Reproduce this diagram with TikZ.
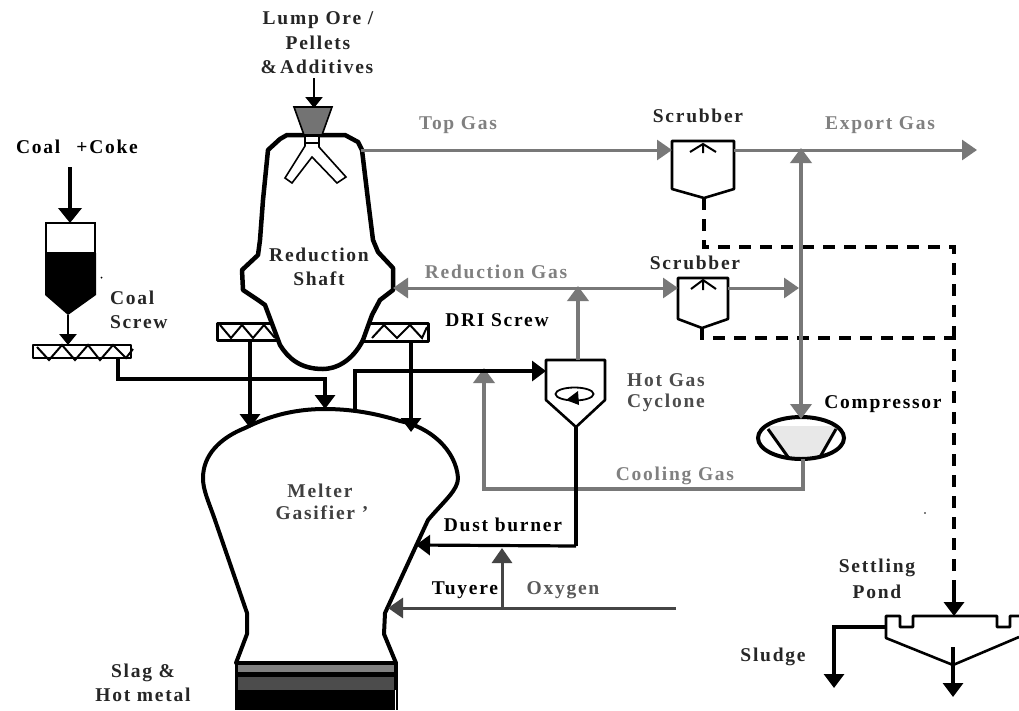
\documentclass[tikz,border=0pt]{standalone}
\usepackage{fontspec}
\setmainfont{Liberation Serif}[LetterSpace=9]
\usetikzlibrary{arrows.meta}
\definecolor{gas}{gray}{0.47}
\definecolor{oxy}{gray}{0.27}
\tikzset{
  x=1pt,y=-1pt,
  every node/.style={inner sep=0pt,outer sep=0pt},
  lbl/.style={font=\fontsize{19.5}{21}\selectfont\bfseries,text=black!85,align=center},
  glbl/.style={lbl,text=black!50},
  vessel/.style={draw=black,line width=2.6pt,line join=round,fill=white},
  wall/.style={draw=black,line width=4.5pt,line join=round,fill=white},
  blk/.style={draw=black,line width=3.2pt,line join=miter},
  blkarrow/.style={blk,-{Triangle[length=14pt,width=20pt]}},
  thinarrow/.style={draw=black,line width=2.4pt,-{Triangle[length=11pt,width=17pt]}},
  gasline/.style={draw=gas,line width=3pt},
  gasarrow/.style={gasline,-{Triangle[length=15pt,width=20pt,color=gas]}},
  gasthick/.style={gasarrow,line width=4.5pt,-{Triangle[length=15pt,width=21pt,color=gas]}},
  oxyarrow/.style={draw=oxy,line width=3pt,-{Triangle[length=15pt,width=20pt,color=oxy]}},
  dashline/.style={draw=black,line width=3.6pt,dash pattern=on 12pt off 9pt},
}
\begin{document}
\begin{tikzpicture}
\useasboundingbox (0,0) rectangle (1019,710);
\fill[white] (0,0) rectangle (1019,710);

% connection points
\coordinate (oreIn) at (314,78);
\coordinate (oreTop) at (314,108);
\coordinate (shaftGas) at (361,150);
\coordinate (s1in) at (672,150);
\coordinate (s1out) at (734,150);
\coordinate (exportEnd) at (977,150);
\coordinate (s1tip) at (704,198);
\coordinate (s2tip) at (702,328);
\coordinate (s2in) at (678,288);
\coordinate (s2out) at (728,288);
\coordinate (shaftRed) at (393,288);
\coordinate (trunkTop) at (801,148);
\coordinate (trunkIn) at (799,288);
\coordinate (compTop) at (801,419);
\coordinate (compBot) at (803,459);
\coordinate (cycTop) at (578,360);
\coordinate (redJoin) at (578,286);
\coordinate (cycIn) at (546,371);
\coordinate (cycTip) at (576,427);
\coordinate (coolTip) at (484,368);
\coordinate (coalTop) at (70,167);
\coordinate (hopTop) at (70,223);
\coordinate (hopTip) at (68,315);
\coordinate (scrTop) at (68,345);
\coordinate (scrOut) at (118,358);
\coordinate (gasTop) at (325,409);
\coordinate (driL) at (250,340);
\coordinate (driLend) at (250,428);
\coordinate (driR) at (411,341);
\coordinate (driRend) at (411,432);
\coordinate (gasOff) at (355,409);
\coordinate (dustEnd) at (416,545);
\coordinate (oxyEnd) at (676,608);
\coordinate (tuy) at (388,608);
\coordinate (oxyJoin) at (502,608);
\coordinate (dustJoin) at (502,548);
\coordinate (pondTop) at (954,616);
\coordinate (pondLeft) at (886,627);
\coordinate (sludgeEnd) at (834,688);
\coordinate (pondBot) at (953,647);
\coordinate (pondEnd) at (953,697);
\coordinate (dashCorner) at (954,247);
\coordinate (dashCorner2) at (954,338);

% DRI screws (behind the shaft)
\draw[vessel,line width=3pt] (217,323) rectangle (285,340);
\draw[vessel,line width=3pt] (360,323) rectangle (428,341);
\draw[black,line width=2pt] (220,325)--(231,338)--(242,325)--(253,338)--(264,325)--(275,338);
\draw[black,line width=2pt] (372,338)--(384,325)--(397,338)--(410,325)--(422,338)--(427,327);

% reduction shaft
\draw[wall] (287,135)--(345,135)--(358,142)--(362,150)--(368,200)--(373,240)--(378,252)--(393,268)--(393,290)--(380,300)--(372,315)--(363,340)
  .. controls (352,362) and (335,369) .. (323,369)
  .. controls (300,369) and (288,358) .. (280,345)--(265,305)--(258,300)--(243,290)--(242,270)--(258,255)--(260,240)--(263,200)--(268,150)--(280,139)--cycle;

% charging funnel and distributor
\draw[draw=black,line width=1.6pt,fill=black!55] (294,107)--(332,107)--(322,135)--(304,135)--cycle;
\draw[draw=black,line width=1.6pt,fill=white] (305,136)--(319,136)--(319,147)--(346,177)--(337,183)--(312,157)--(292,183)--(285,178)--(305,146)--cycle;
\draw[black,line width=1.6pt] (305,143)--(319,143);

% coal hopper
\draw[draw=black,line width=2.6pt,fill=white] (46,223) rectangle (95,253);
\fill[black] (45,253)--(96,253)--(96,295)--(68,315)--(45,295)--cycle;
\fill[black] (101.5,277.5) circle (1pt);
\draw[vessel,line width=2.4pt] (33,345) rectangle (131,358);
\draw[black,line width=2pt] (37,347)--(49,360)--(62,345)--(75,360)--(88,345)--(100,360)--(113,345)--(126,358)--(133,349);

% melter gasifier
\draw[wall,line width=4pt] (247,613)--(247,634)--(236,663)--(396,663)--(384,634)--(385,613)--(428,520)
  .. controls (445,500) and (458,490) .. (458,478)
  .. controls (456,450) and (430,427) .. (400,421)
  .. controls (375,413) and (350,409) .. (325,409)
  .. controls (290,409) and (265,418) .. (245,428)
  .. controls (220,438) and (203,455) .. (203,478)
  .. controls (203,490) and (208,500) .. (215,520)--cycle;
\fill[black] (235,662) rectangle (398,710);
\fill[black!50] (238,665) rectangle (394,672);
\fill[black!70] (238,677) rectangle (394,690);
\draw[white,line width=1pt] (395,690)--(395,710);

% scrubbers
\draw[vessel] (672,141)--(734,141)--(734,189)--(704,198)--(672,189)--cycle;
\draw[black,line width=2pt] (690,152)--(703,144)--(716,152) (703,144)--(703,153);
\draw[vessel] (678,278)--(728,278)--(728,319)--(702,328)--(678,319)--cycle;
\draw[black,line width=2pt] (691,289)--(703,280)--(716,289) (703,280)--(703,290);

% hot gas cyclone
\draw[vessel] (546,360)--(605,360)--(605,400)--(576,427)--(546,400)--cycle;
\draw[black,line width=1.8pt] (574.5,394) ellipse (19 and 6.5);
\fill[black] (566,400)--(578,391)--(579,405)--cycle;

% compressor
\fill[black!9] (768,426)--(838,426)--(820,458)--(788,458)--cycle;
\draw[draw=black,line width=4pt] (801,438) ellipse (43 and 21);
\draw[black,line width=3pt] (768,429)--(788,457) (836,429)--(820,457);

% settling pond
\draw[black,line width=2.6pt,line join=round] (1019,616)--(1010,616)--(1010,627)--(997,627)--(997,616)--(913,616)--(913,627)--(900,627)--(900,616)--(886,616)--(886,638)--(953,665)--(1019,637);

% dashed connectors
\draw[dashline] (s1tip)--(704,247)--(dashCorner)--(dashCorner2);
\draw[dashline] (s2tip)--(702,338)--(dashCorner2)--(954,595);
\draw[blkarrow,line width=4pt] (954,592)--(pondTop);

% gas connectors
\draw[gasarrow] (shaftGas)--(s1in);
\draw[gasarrow] (s1out)--(exportEnd);
\draw[gasthick,{Triangle[length=15pt,width=21pt,color=gas]}-{Triangle[length=15pt,width=21pt,color=gas]}] (trunkTop)--(compTop);
\draw[gasarrow,{Triangle[length=15pt,width=20pt,color=gas]}-{Triangle[length=15pt,width=20pt,color=gas]}] (shaftRed)--(s2in);
\draw[gasarrow] (s2out)--(trunkIn);
\draw[gasthick] (cycTop)--(redJoin);
\draw[gasthick,line width=4pt] (compBot)--(803,489)--(484,489)--(coolTip);

% solid connectors
\draw[blk] (cycTip)--(576,546);
\draw[blkarrow] (576,546)--(dustEnd);
\draw[blkarrow] (gasOff)--(355,371)--(cycIn);
\draw[blkarrow] (scrOut)--(118,379)--(325,379)--(gasTop);
\draw[blkarrow] (driL)--(driLend);
\draw[blkarrow] (driR)--(driRend);
\draw[blkarrow,line width=4pt,-{Triangle[length=15pt,width=23pt]}] (coalTop)--(hopTop);
\draw[thinarrow,line width=2.8pt] (hopTip)--(scrTop);
\draw[thinarrow] (oreIn)--(oreTop);
\draw[oxyarrow] (oxyEnd)--(tuy);
\draw[oxyarrow] (oxyJoin)--(dustJoin);
\draw[blkarrow] (pondLeft)--(834,627)--(sludgeEnd);
\draw[blkarrow] (pondBot)--(pondEnd);

\fill[black] (925,513) circle (0.9pt);

% labels
\node[lbl] (l1) at (318,20) {Lump Ore /};
\node[lbl] (l2) at (318,43) {Pellets};
\node[lbl] (l3) at (317,67) {\&\,Additives};
\node[lbl,text=black] (coal) at (77,147) {Coal\hspace{16pt}+Coke};
\node[lbl,anchor=west] (cs1) at (110,298) {Coal};
\node[lbl,anchor=west] (cs2) at (110,322) {Screw};
\node[glbl] (topgas) at (458,125) {Top Gas};
\node[lbl] (sc1) at (698,116) {Scrubber};
\node[glbl] (export) at (880,125) {Export Gas};
\node[lbl] (sc2) at (695,263) {Scrubber};
\node[glbl] (red) at (496,272) {Reduction Gas};
\node[lbl] (rs1) at (319,255) {Reduction};
\node[lbl] (rs2) at (319,279) {Shaft};
\node[lbl,text=black] (dri) at (497,320) {DRI Screw};
\node[lbl,text=black!70] (hg1) at (666,380) {Hot Gas};
\node[lbl,text=black!70] (hg2) at (666,403) {Cyclone};
\node[lbl,text=black] (comp) at (883,404) {Compressor};
\node[glbl] (cool) at (675,476) {Cooling Gas};
\node[lbl,text=black!75] (mg1) at (320,491) {Melter};
\node[lbl,text=black!75] (mg2) at (322,513) {Gasifier '};
\node[lbl,text=black] (dust) at (503,525) {Dust burner};
\node[lbl,text=black] (tuyere) at (465,590) {Tuyere};
\node[lbl,text=black!65] (oxygen) at (563,590) {Oxygen};
\node[lbl] (sp1) at (877,568) {Settling};
\node[lbl] (sp2) at (877,592) {Pond};
\node[lbl] (sludge) at (773,657) {Sludge};
\node[lbl] (sl1) at (143,673) {Slag \&};
\node[lbl] (sl2) at (143,695) {Hot metal};
\end{tikzpicture}
\end{document}
